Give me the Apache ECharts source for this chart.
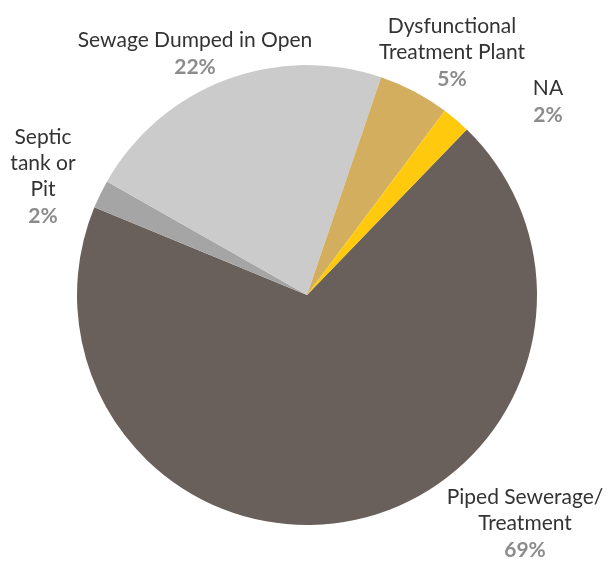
<!DOCTYPE html>
<html><head><meta charset="utf-8">
<script src="https://cdn.jsdelivr.net/npm/echarts@6/dist/echarts.min.js"></script>
<style>html,body{margin:0;padding:0;background:#fff}#c{width:608px;height:561px}</style>
</head><body><div id="c"></div>
<script>
const categories = ["Piped Sewerage/\nTreatment", "Septic\ntank or\nPit", "Sewage Dumped in Open", "Dysfunctional\nTreatment Plant", "NA"];
const values = [69, 2, 22, 5, 2];
const colors = ["#6a605b", "#a5a5a5", "#cbcbcb", "#d3ae5f", "#ffc90e"];
// label anchor (center of label block) per slice
const labelPos = [[525, 524], [43, 177], [195, 54], [452, 53], [548, 102]];

const chart = echarts.init(document.getElementById('c'), null, {renderer: 'canvas'});
chart.setOption({
  animation: false,
  series: [{
    type: 'pie',
    center: [307, 295],
    radius: 230,
    startAngle: 46,
    clockwise: true,
    data: categories.map((n, i) => ({name: n, value: values[i], itemStyle: {color: colors[i]}})),
    label: {
      show: true,
      position: 'outside',
      overflow: 'none',
      edgeDistance: 0,
      formatter: p => '{n|' + p.name.split('\n').join('}\n{n|') + '}\n{p|' + p.value + '%}',
      align: 'center',
      rich: {
        n: {fontFamily: 'Lato', fontSize: 21, color: '#333333', lineHeight: 26, align: 'center'},
        p: {fontFamily: 'Lato', fontSize: 21, fontWeight: 'bold', color: '#8c8c8c', lineHeight: 28, align: 'center'}
      }
    },
    labelLine: {show: false},
    labelLayout: function (params) {
      const p = labelPos[params.dataIndex];
      return {x: p[0], y: p[1], align: 'center', verticalAlign: 'middle'};
    },
    emphasis: {disabled: true}
  }]
});
</script></body></html>
